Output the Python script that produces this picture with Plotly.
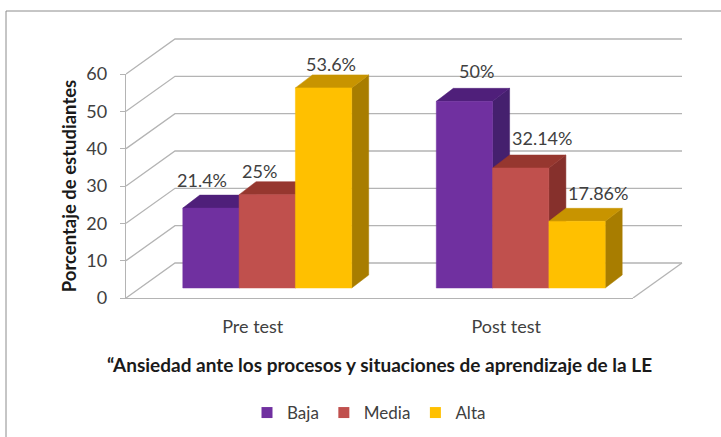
import plotly.graph_objects as go

categories = ["Pre test", "Post test"]
series_names = ["Baja", "Media", "Alta"]
baja = [21.4, 50]
media = [25, 32.14]
alta = [53.6, 17.86]
labels_baja = ["21.4%", "50%"]
labels_media = ["25%", "32.14%"]
labels_alta = ["53.6%", "17.86%"]
y_ticks = [0, 10, 20, 30, 40, 50, 60]

# styling / geometry
W, H = 721, 437
L, R, T, B = 126, 36, 36, 139   # outer plotting box, including the depth of the floor
FRONT_W, FRONT_H = 507, 224     # front plane of the 3D box, in px
PXX = FRONT_W / 2               # px per category
PXY = FRONT_H / 60              # px per value unit
BOX_W, BOX_H = W - L - R, H - T - B
FONT = "Lato"
TXT = "#404040"
GRID = "#b4b4b4"
front = ["#7030A0", "#C0504D", "#FFC000"]
top = ["#4F1F7A", "#96372F", "#C89400"]
side = ["#45206E", "#86302C", "#A87D00"]
BAR_W = 56.3 / PXX
WALL = (49 / PXX, 35 / PXY)     # depth of the floor
PLANE = (14.5 / PXX, 10 / PXY)  # front of bars relative to front of floor
DEPTH = (17 / PXX, 13 / PXY)    # depth of the bars
label_shift = [[(-9, 28), (12, 30)], [(-8, 24), (21, 30)], [(7, 24), (21, 28)]]

values = [baja, media, alta]
labels = [labels_baja, labels_media, labels_alta]
fig = go.Figure()

# Walls and floor gridlines (on the overlay axes, so they can run behind the front plane)
gx, gy = [], []
for t in y_ticks:
    gx += [-0.5, -0.5 + WALL[0], 1.5 + WALL[0], None]
    gy += [t, t + WALL[1], t + WALL[1], None]
gx += [1.5, 1.5 + WALL[0], None]
gy += [0, WALL[1], None]
fig.add_trace(go.Scatter(x=gx, y=gy, xaxis="x2", yaxis="y2", mode="lines",
                         line=dict(color=GRID, width=1.3),
                         cliponaxis=False, hoverinfo="skip", showlegend=False))


def poly(name, color, xs, ys, text=None):
    fig.add_trace(go.Scatter(
        x=xs, y=ys, xaxis="x2", yaxis="y2", mode="lines", fill="toself", fillcolor=color,
        line=dict(color=color, width=0.5), cliponaxis=False,
        hoverinfo="text" if text else "skip", text=text, name=name, showlegend=False))


annotations = []
for c, cat in enumerate(categories):
    for s, sname in enumerate(series_names):
        v = values[s][c]
        x0 = c + PLANE[0] + (s - 1.5) * BAR_W
        x1 = x0 + BAR_W
        y0 = PLANE[1]
        y1 = v + PLANE[1]
        dx, dy = DEPTH
        poly(sname, side[s], [x1, x1 + dx, x1 + dx, x1, x1], [y0, y0 + dy, y1 + dy, y1, y0])
        poly(sname, top[s], [x0, x0 + dx, x1 + dx, x1, x0], [y1, y1 + dy, y1 + dy, y1, y1])
        poly(sname, front[s], [x0, x1, x1, x0, x0], [y0, y0, y1, y1, y0],
             text=f"{sname} · {cat}: {labels[s][c]}")
        sx, sy = label_shift[s][c]
        annotations.append(dict(
            x=(x0 + x1) / 2, y=y1, xref="x2", yref="y2", text=labels[s][c], showarrow=False,
            xshift=sx, yshift=sy, font=dict(family=FONT, size=18, color=TXT)))

# Legend keys (these also keep the front-plane axes alive)
for s, sname in enumerate(series_names):
    fig.add_trace(go.Scatter(x=[None], y=[None], mode="markers", name=sname,
                             marker=dict(symbol="square", size=11, color=front[s])))

fig.update_layout(
    width=W, height=H, margin=dict(l=L, r=R, t=T, b=B),
    paper_bgcolor="white", plot_bgcolor="rgba(0,0,0,0)",
    font=dict(family=FONT, color=TXT, size=17),
    annotations=annotations,
    legend=dict(orientation="h", xref="container", yref="container",
                x=369 / W, xanchor="center", y=1 - 413 / H, yanchor="middle",
                font=dict(family=FONT, size=17, color=TXT), itemwidth=30),
    shapes=[dict(type="rect", xref="paper", yref="paper",
                 x0=(6 - L) / BOX_W, x1=(730 - L) / BOX_W,
                 y0=(H - B - 445) / BOX_H, y1=(H - B - 11) / BOX_H,
                 line=dict(color="#8c8c8c", width=1), layer="below")],
    xaxis=dict(domain=[0, FRONT_W / BOX_W], anchor="y",
               range=[-0.5, 1.5], tickmode="array", tickvals=[0, 1], automargin=False,
               ticktext=categories, showgrid=False, zeroline=False, showline=True,
               linecolor=GRID, linewidth=1.3, ticks="", ticklabelstandoff=12,
               tickfont=dict(family=FONT, size=18, color=TXT),
               title=dict(text="“Ansiedad ante los procesos y situaciones de aprendizaje de la LE",
                          standoff=22, font=dict(family=FONT, size=19, color="#1a1a1a", weight="bold"))),
    yaxis=dict(domain=[0, FRONT_H / BOX_H], anchor="x",
               range=[0, 60], tickmode="array", tickvals=y_ticks, showgrid=False, zeroline=False,
               automargin=False, ticklabelstandoff=9,
               showline=True, linecolor=GRID, linewidth=1.3, ticks="outside", ticklen=5,
               tickcolor=GRID, tickfont=dict(family=FONT, size=18, color=TXT),
               title=dict(text="Porcentaje de estudiantes", standoff=4,
                          font=dict(family=FONT, size=18.5, color="#1a1a1a", weight="bold"))),
    xaxis2=dict(domain=[0, 1], anchor="y2", range=[-0.5, -0.5 + BOX_W / PXX], visible=False),
    yaxis2=dict(domain=[0, 1], anchor="x2", range=[0, BOX_H / PXY], visible=False),
)
fig.write_html("out.html", config={"displayModeBar": False},
               post_script="document.body.style.margin='0';")
